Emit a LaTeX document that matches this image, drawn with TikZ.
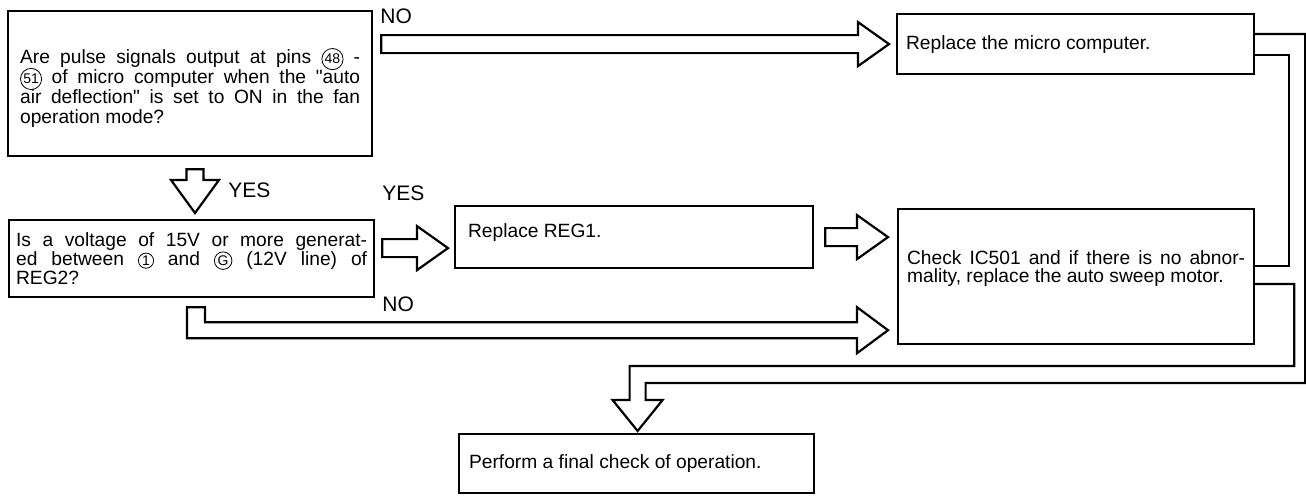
\documentclass[tikz,border=0pt]{standalone}
\usepackage{fontspec}
\setmainfont{Liberation Sans}
\usetikzlibrary{calc}

\newcommand{\cnum}[1]{\raisebox{0pt}[0pt][0pt]{\tikz[baseline=(cn.base)]\node[circle, draw, line width=0.4pt,
    inner sep=0.5pt, minimum size=0pt, text width={}, font=\fontsize{7}{7}\selectfont] (cn) {#1};}}
\newcommand{\fatarrow}[2]{%
  \draw[fat] let \p1=#1, \p2=#2 in
    (\x1,\y2+4.5pt) -- (\x2-15.5pt,\y2+4.5pt) -- (\x2-15.5pt,\y2+11pt) -- (\x2,\y2)
    -- (\x2-15.5pt,\y2-11pt) -- (\x2-15.5pt,\y2-4.5pt) -- (\x1,\y2-4.5pt) -- cycle;}

\begin{document}
\begin{tikzpicture}[
    x=0.5pt, y=-0.5pt,
    box/.style={rectangle, draw, line width=1.1pt, anchor=north west, align=justify,
                inner ysep=2pt, font=\fontsize{9.6}{9.4}\selectfont},
    fat/.style={draw, line width=1.1pt, line join=miter, fill=white},
    lbl/.style={anchor=base west, inner sep=0pt, font=\fontsize{10.5}{12}\selectfont}
]
\useasboundingbox (0,0) rectangle (1306,495);
\node[box, font=\fontsize{9.6}{9.9}\selectfont, inner xsep=6pt, text width=170pt, minimum width=182pt,
      minimum height=72.5pt] (A) at (7,10)
  {\rule{0pt}{12pt}Are pulse signals output at pins \cnum{48} -\linebreak \cnum{51} of micro computer when the \textquotedbl auto\linebreak air deflection\textquotedbl{} is set to ON in the fan\linebreak operation mode?};
\node[box, inner xsep=4.5pt, text width=169.5pt, minimum height=30pt] (B) at (896,13)
  {Replace the micro computer.};
\node[box, inner xsep=3.5pt, text width=175.5pt, minimum height=38.5pt] (E) at (8,219)
  {Is a voltage of 15V or more generat-\linebreak ed between \cnum{1} and \cnum{G} (12V line) of\linebreak REG2?};
\node[box, inner xsep=6.5pt, text width=166pt, minimum height=31pt] (F) at (454,205)
  {Replace REG1.\rule[-7pt]{0pt}{7pt}};
\node[box, inner xsep=4.5pt, text width=169pt, minimum height=67.5pt] (C) at (897,208)
  {Check IC501 and if there is no abnor-\linebreak mality, replace the auto sweep motor.\rule[-10pt]{0pt}{10pt}};
\node[box, inner xsep=5pt, text width=167.5pt, minimum height=29.5pt] (D) at (458,433)
  {Perform a final check of operation.};

\node[lbl] (no1) at (380,23) {NO};
\node[lbl] (yes1) at (228,197) {YES};
\node[lbl] (yes2) at (382,200) {YES};
\node[lbl] (no2) at (382,311) {NO};

\fatarrow{($(A.east |- B.west)+(8,0)$)}{($(B.west)+(-7,0)$)}
\fatarrow{($(E.east)+(7,-10.5)$)}{($(F.west |- E.east)+(-6,-10.5)$)}
\fatarrow{($(F.east)+(11,0)$)}{($(C.west |- F.east)+(-9,0)$)}

\draw[fat] let \p1=($(A.south west)+(188,12)$), \p2=($(E.north west)+(187,-6)$) in
  (\x1-4.25pt,\y1) -- (\x1+4.25pt,\y1) -- (\x1+4.25pt,\y2+16.5pt) -- (\x1+12pt,\y2+16.5pt)
  -- (\x2,\y2) -- (\x1-12pt,\y2+16.5pt) -- (\x1-4.25pt,\y2+16.5pt) -- cycle;
\draw[fat] let \p1=($(E.south west)+(179,9)$), \p2=($(C.south west)+(-9,-15)$) in
  (\x1,\y1) -- (\x1+9pt,\y1) -- (\x1+9pt,\y2+4pt) -- (\x2-15.5pt,\y2+4pt) -- (\x2-15.5pt,\y2+11.5pt)
  -- (\x2,\y2) -- (\x2-15.5pt,\y2-11.5pt) -- (\x2-15.5pt,\y2-4pt) -- (\x1,\y2-4pt) -- cycle;

\coordinate (tip) at ($(D.north)+(1,-2)$);
\draw[fat, fill=none] ($(B.north east)+(0,21)$) -| ($(B.north east)+(50,370)$) -| ($(tip)+(8,-31)$)
  -- ++(17,0) -- (tip) -- ++(-25,-31) -- ++(17,0) |- ($(C.north east)+(39,158)$) |- ($(C.north east)+(0,76)$);
\draw[fat, fill=none] ($(B.south east)+(0,-20)$) -| ($(C.north east)+(34,58)$) -- ($(C.north east)+(0,58)$);
\end{tikzpicture}
\end{document}
